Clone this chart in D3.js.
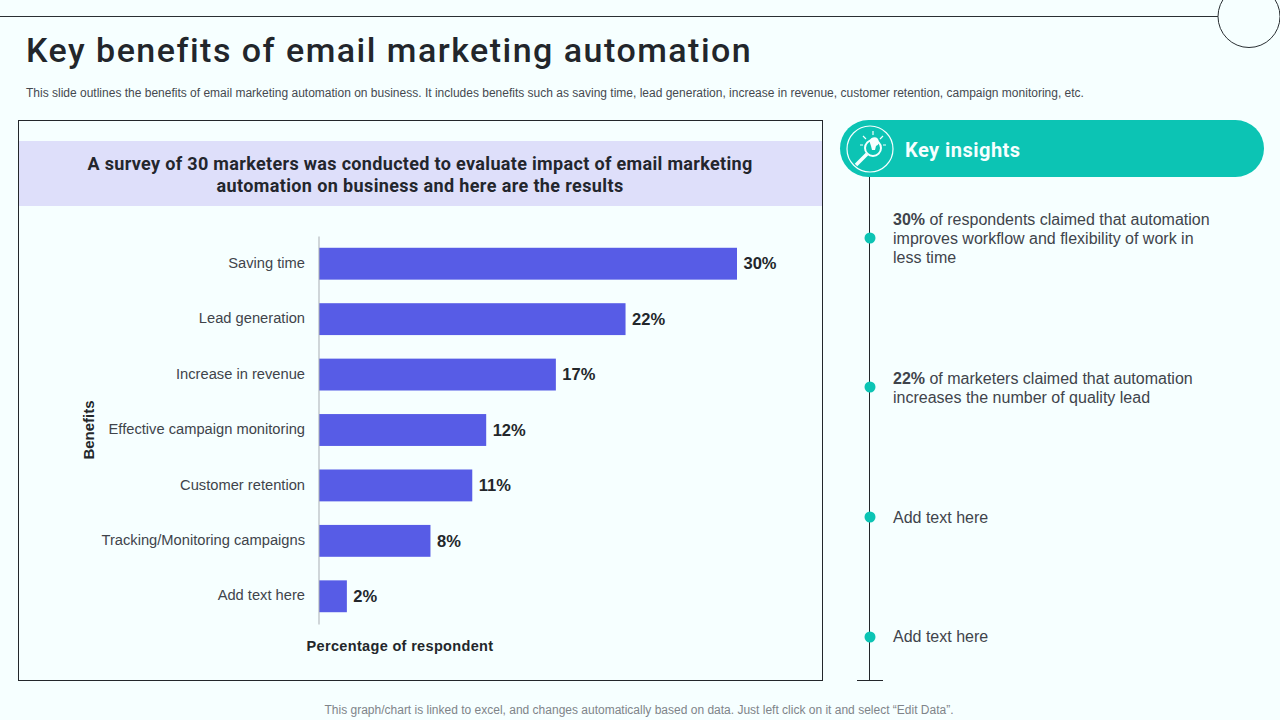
<!DOCTYPE html>
<html><head><meta charset="utf-8">
<script src="https://cdn.jsdelivr.net/npm/d3@7/dist/d3.min.js"></script>
<style>html,body{margin:0;padding:0;background:#f6ffff;overflow:hidden}svg{display:block}</style>
</head><body><svg id="c" width="1280" height="720"></svg>
<script>
const categories=["Saving time","Lead generation","Increase in revenue","Effective campaign monitoring","Customer retention","Tracking/Monitoring campaigns","Add text here"];
const values=[30,22,17,12,11,8,2];
const insightBold=["30%","22%","",""];
const insightLines=[["of respondents claimed that automation","improves workflow and flexibility of work in","less time"],["of marketers claimed that automation","increases the number of quality lead"],["Add text here"],["Add text here"]];

const sans="'Liberation Sans',Arial,sans-serif", head="Roboto,'Noto Sans',sans-serif";
const svg=d3.select("#c");
const T=(x,y,s,o={})=>svg.append("text").attr("x",x).attr("y",y).attr("font-family",o.f||sans).attr("font-size",o.s||14)
  .attr("font-weight",o.w||400).attr("fill",o.c||"#3f444b").attr("text-anchor",o.a||"start").attr("letter-spacing",o.l||0).text(s);

// top rule + circle
svg.append("line").attr("x1",0).attr("x2",1218).attr("y1",16.5).attr("y2",16.5).attr("stroke","#2a2f33").attr("stroke-width",1);
svg.append("circle").attr("cx",1249).attr("cy",16.5).attr("r",31).attr("fill","#f6ffff").attr("stroke","#2a2f33").attr("stroke-width",1);

T(26,62,"Key benefits of email marketing automation",{f:head,s:34,w:500,c:"#22262b",l:1.48});
T(26,97,"This slide outlines the benefits of email marketing automation on business. It includes benefits such as saving time, lead generation, increase in revenue, customer retention, campaign monitoring, etc.",{s:12,c:"#45494f",l:0});

// chart frame
svg.append("rect").attr("x",18.5).attr("y",120.5).attr("width",804).attr("height",560).attr("fill","#f6ffff").attr("stroke","#23272b");
svg.append("rect").attr("x",19).attr("y",141).attr("width",803).attr("height",65).attr("fill","#dedffa");
T(420,170,"A survey of 30 marketers was conducted to evaluate impact of email marketing",{f:head,s:18,w:700,c:"#23262d",a:"middle",l:0.33});
T(420,192,"automation on business and here are the results",{f:head,s:18,w:700,c:"#23262d",a:"middle",l:0.38});

// bars
const x=d3.scaleLinear().domain([0,30]).range([319,737]);
const y=d3.scaleBand().domain(categories).range([236,624]).paddingInner(0.425).paddingOuter(0.2125);
svg.append("g").selectAll("rect").data(categories).join("rect")
  .attr("x",x(0)).attr("y",d=>y(d)).attr("width",(d,i)=>x(values[i])-x(0)).attr("height",y.bandwidth()).attr("fill","#575ce6");
const ax=svg.append("g").attr("transform","translate(318.5,0)").call(d3.axisLeft(y).tickSize(0).tickPadding(13.5));
ax.select(".domain").attr("stroke","#a9adb3").attr("stroke-width",1);
ax.selectAll("text").attr("font-family",sans).attr("font-size",14.7).attr("fill","#3f444b").attr("dy","0.285em");
svg.append("g").selectAll("text").data(categories).join("text")
  .attr("x",(d,i)=>x(values[i])+6.5).attr("y",d=>y(d)+y.bandwidth()/2+5.7)
  .attr("font-family",sans).attr("font-size",16.5).attr("font-weight",700).attr("fill","#23272b")
  .text((d,i)=>values[i]+"%");
svg.append("text").attr("transform","translate(94,430) rotate(-90)").attr("text-anchor","middle")
  .attr("font-family",sans).attr("font-size",15).attr("font-weight",700).attr("fill","#23272b").text("Benefits");
T(400,651,"Percentage of respondent",{s:14.5,w:700,c:"#23272b",a:"middle",l:0.33});

// insights header
svg.append("rect").attr("x",840).attr("y",120).attr("width",424).attr("height",57).attr("rx",28.5).attr("fill","#0cc4b4");
svg.append("circle").attr("cx",870).attr("cy",149).attr("r",23).attr("fill","none").attr("stroke","#f6ffff").attr("stroke-width",1.2);
const ic=svg.append("g").attr("stroke","#f6ffff").attr("fill","none");
ic.append("circle").attr("cx",873).attr("cy",148).attr("r",8).attr("stroke-width",2);
ic.append("path").attr("d","M867 154L856 165").attr("stroke-width",3.5);
ic.append("path").attr("d","M870 143a4.5 4.5 0 1 1 6 3l-1 4h-3l-1-4z").attr("fill","#f6ffff").attr("stroke","none");
ic.append("path").attr("d","M873 131v4M863 136l3 3M883 136l-3 3M860 145h3M883 145h3").attr("stroke-width",1.2);
T(905,157,"Key insights",{f:head,s:20,w:700,c:"#f6ffff",l:0.47});

// timeline
const dotY=[238,387,517,637], textY=[225,384,523,642];
svg.append("line").attr("x1",869.5).attr("x2",869.5).attr("y1",177).attr("y2",681).attr("stroke","#23272b");
svg.append("line").attr("x1",857).attr("x2",883).attr("y1",680.5).attr("y2",680.5).attr("stroke","#23272b");
svg.append("g").selectAll("circle").data(dotY).join("circle").attr("cx",870).attr("cy",d=>d).attr("r",5.5).attr("fill","#0cc4b4");
insightLines.forEach((ls,i)=>{
  ls.forEach((s,j)=>{
    const t=T(893,textY[i]+j*19,"",{s:16,c:"#3f444b"});
    if(j===0&&insightBold[i]){t.append("tspan").attr("font-weight",700).text(insightBold[i]+" ");}
    t.append("tspan").text(s);
  });
});

T(639,714,"This graph/chart is linked to excel, and changes automatically based on data. Just left click on it and select “Edit Data”.",{s:12,c:"#7f8489",a:"middle"});
</script></body></html>
